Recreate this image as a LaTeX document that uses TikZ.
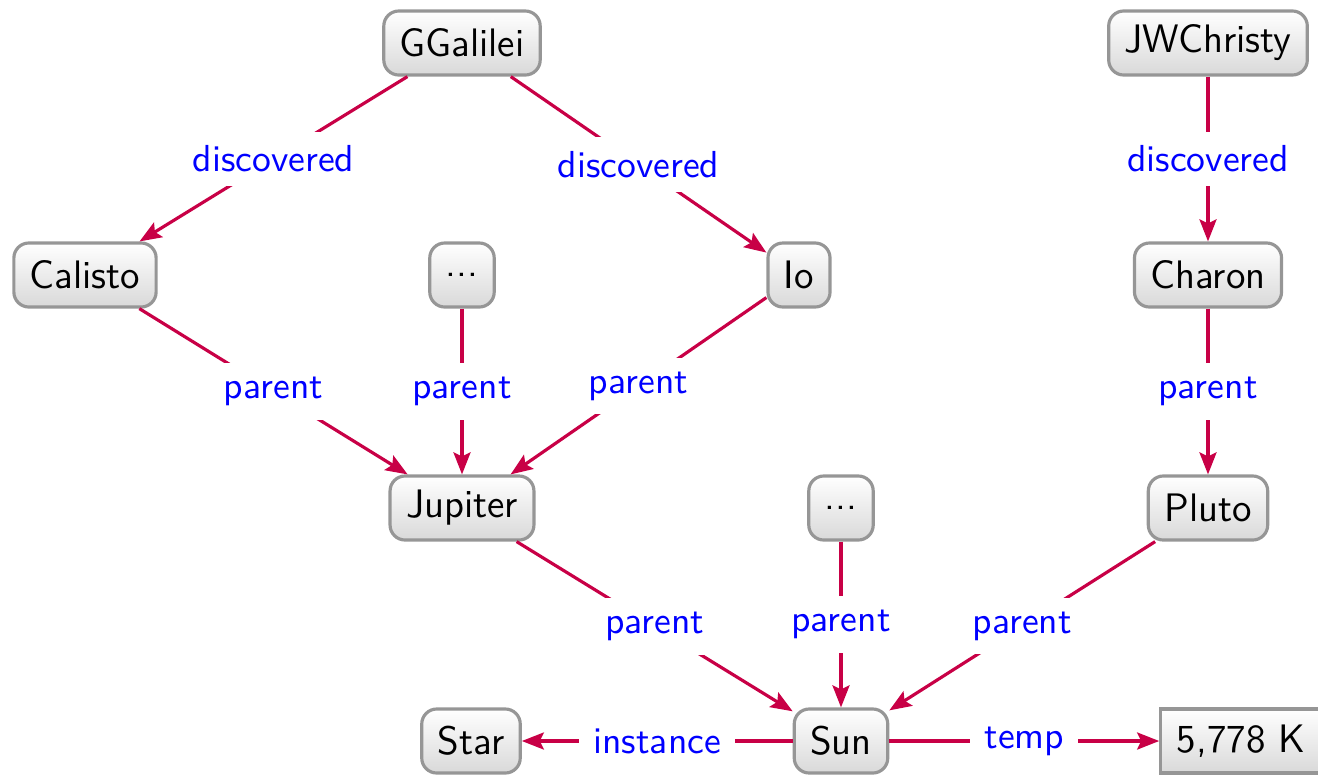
\documentclass[tikz,border=0pt]{standalone}
\usepackage{tikz}
\usetikzlibrary{arrows.meta}
\definecolor{edgered}{RGB}{200,0,70}
\definecolor{boxgray}{RGB}{150,150,150}

\begin{document}
\begin{tikzpicture}[x=0.01cm, y=-0.01cm,
  obj/.style={draw=boxgray, line width=0.9pt, rounded corners=0.15cm, top color=white, bottom color=black!15, minimum height=0.64cm, inner xsep=0.16cm, font=\sffamily\fontsize{11.3}{13}\selectfont},
  val/.style={obj, rounded corners=0pt},
  rel/.style={draw=edgered, line width=0.9pt, -{Stealth[length=0.22cm,width=0.17cm,inset=0.04cm]}},
  lbl/.style={fill=white, text=blue, inner xsep=4pt, inner ysep=4pt, font=\sffamily\fontsize{10.7}{12}\selectfont}]
\useasboundingbox (0,0) rectangle (1318,775);

\node [obj] (galilei) at (462,43) {GGalilei};
\node [obj] (christy) at (1208,43) {JWChristy};
\node [obj] (calisto) at (85,275) {Calisto};
\node [obj] (moons) at (462,275) {...};
\node [obj] (io) at (799,275) {Io};
\node [obj] (charon) at (1208,275) {Charon};
\node [obj] (jupiter) at (462,508) {Jupiter};
\node [obj] (planets) at (841,508) {...};
\node [obj] (pluto) at (1208,508) {Pluto};
\node [obj] (star) at (471,741) {Star};
\node [obj] (sun) at (841,741) {Sun};
\node [val] (temp) at (1241,741) {5,778 K};

\draw [rel] (galilei) -- node [lbl] {discovered} (calisto);
\draw [rel] (galilei) -- node [lbl] {discovered} (io);
\draw [rel] (christy) -- node [lbl] {discovered} (charon);
\draw [rel] (calisto) -- node [lbl] {parent} (jupiter);
\draw [rel] (moons) -- node [lbl] {parent} (jupiter);
\draw [rel] (io) -- node [lbl] {parent} (jupiter);
\draw [rel] (charon) -- node [lbl] {parent} (pluto);
\draw [rel] (jupiter) -- node [lbl] {parent} (sun);
\draw [rel] (planets) -- node [lbl] {parent} (sun);
\draw [rel] (pluto) -- node [lbl] {parent} (sun);
\draw [rel] (sun) -- node [lbl] {instance} (star);
\draw [rel] (sun) -- node [lbl] {temp} (temp);

\end{tikzpicture}
\end{document}
